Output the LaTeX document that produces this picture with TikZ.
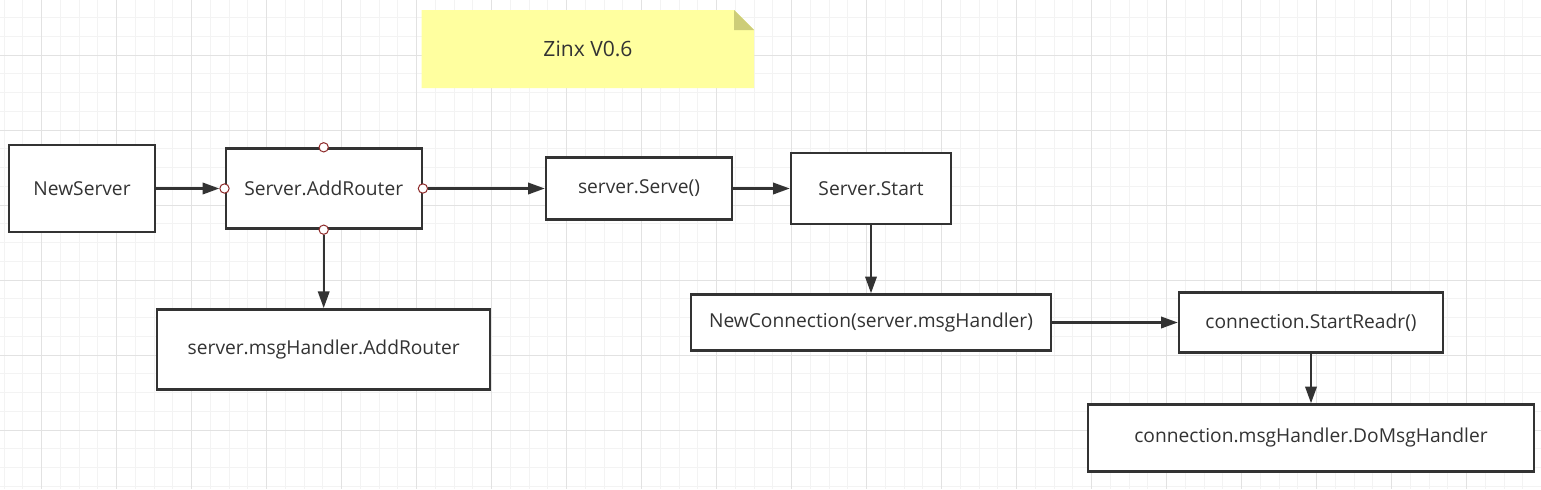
\documentclass[tikz,border=0pt]{standalone}
\usepackage{fontspec}
\setmainfont{Open Sans}
\usetikzlibrary{arrows.meta}
\definecolor{linegray}{HTML}{333333}
\definecolor{gridminor}{HTML}{F3F3F3}
\definecolor{gridmajor}{HTML}{E2E2E2}
\definecolor{notefill}{HTML}{FFFF9F}
\definecolor{notefold}{HTML}{CDCD78}
\definecolor{portred}{HTML}{8E2B2B}
\tikzset{
  box/.style={draw=linegray, line width=1.8pt, fill=white, text=linegray, font=\fontsize{14.4}{17}\selectfont, inner sep=0pt},
  boxsize/.style 2 args={minimum width=#1*0.75pt, minimum height=#2*0.75pt},
  port/.style={circle, draw=portred, line width=0.75pt, fill=white, minimum size=7pt, inner sep=0pt},
  flow/.style={draw=linegray, line width=1.8pt, -{Triangle[length=12.5pt,width=8.5pt]}},
}
\begin{document}
\begin{tikzpicture}[x=0.75pt, y=-0.75pt]
        \useasboundingbox (0,0) rectangle (1541,489);
        \fill[white] (0,0) rectangle (1541,489);
        \foreach \i in {0,...,82}
            \draw[gridminor, line width=0.75pt] ({4.17+18.75*\i},0) -- ++(0,489);
        \foreach \j in {0,...,26}
            \draw[gridminor, line width=0.75pt] (0,{-1.25+18.75*\j}) -- ++(1541,0);
        \foreach \i in {0,...,19}
            \draw[gridmajor, line width=0.75pt] ({41.67+75*\i},0) -- ++(0,489);
        \foreach \j in {0,...,5}
            \draw[gridmajor, line width=0.75pt] (0,{55+75*\j}) -- ++(1541,0);

        \fill[notefill] (421.7, 10) -- (734, 10) -- (754, 30) -- (754, 88) -- (421.7, 88) -- cycle;
        \fill[notefold] (734, 10) -- (754, 30) -- (734, 30) -- cycle;
        \node[text=linegray, font=\fontsize{15.8}{19}\selectfont] (title) at (588, 49) {Zinx V0.6};

        \node[box, boxsize={146}{87}] (newserver) at (82, 188.5) {NewServer};
        \node[box, boxsize={196}{80}] (addrouter) at (323.7, 188.5) {Server.AddRouter};
        \node[box, boxsize={186}{62}] (serve) at (639, 188.5) {server.Serve()};
        \node[box, boxsize={160}{71}] (start) at (871, 188.5) {Server.Start};
        \node[box, boxsize={333}{80}] (handleradd) at (323.7, 349.3) {server.msgHandler.AddRouter};
        \node[box, boxsize={360}{56}] (newconn) at (871, 322.5) {NewConnection(server.msgHandler)};
        \node[box, boxsize={264}{60}] (startreadr) at (1311, 322.5) {connection.StartReadr()};
        \node[box, boxsize={446}{67}] (domsg) at (1311, 438) {connection.msgHandler.DoMsgHandler};

        \node[port] (portn) at (addrouter.north) {};
        \node[port] (ports) at (addrouter.south) {};
        \node[port] (portw) at (addrouter.west) {};
        \node[port] (porte) at (addrouter.east) {};

        \draw[flow] (newserver) -- (portw);
        \draw[flow] (porte) -- (serve);
        \draw[flow] (serve) -- (start);
        \draw[flow] (ports) -- (handleradd);
        \draw[flow] (start) -- (newconn);
        \draw[flow] (newconn) -- (startreadr);
        \draw[flow] (startreadr) -- (domsg);

    \end{tikzpicture}
\end{document}
